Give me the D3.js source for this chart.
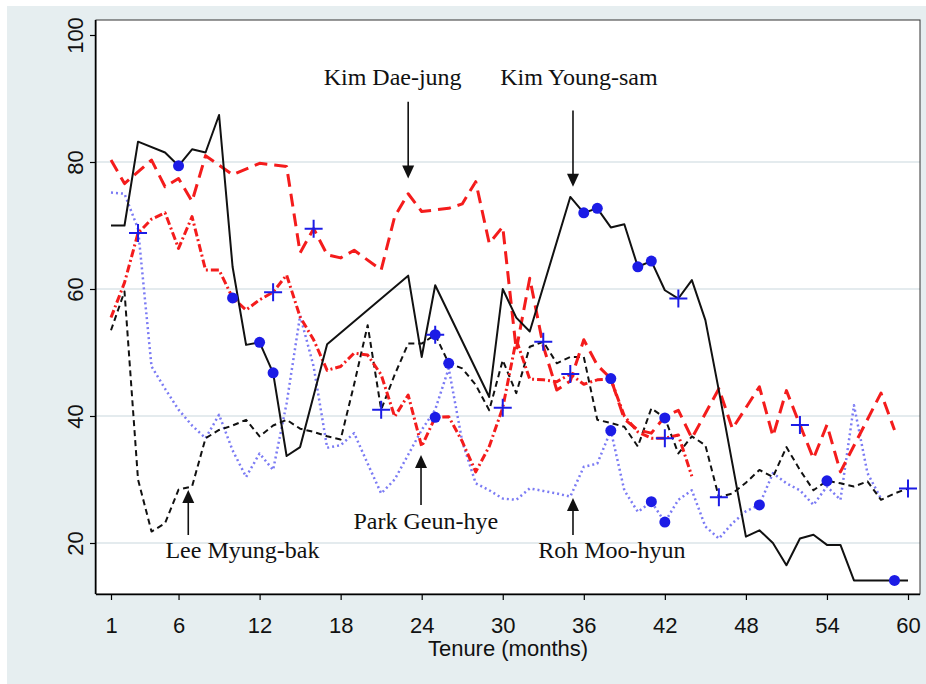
<!DOCTYPE html>
<html>
<head>
<meta charset="utf-8">
<script src="https://cdn.jsdelivr.net/npm/d3@7"></script>
<style>
  body { margin: 0; background: #ffffff; }
  svg { display: block; }
</style>
</head>
<body>
<div id="chart"></div>
<script>
// Approval (%) by month of tenure as [month, value]
const kimYoungSam = [
  [1, 70], [2, 70], [3, 83.2], [5, 81.5], [6, 79.4], [7, 82], [8, 81.5], [9, 87.4],
  [10, 63.5], [11, 51.2], [12, 51.6], [13, 46.8], [14, 33.7], [15, 35.1], [17, 51.3],
  [23, 62.1], [24, 49.3], [25, 60.6], [29, 43], [30, 60], [31, 55.5], [32, 53.3],
  [35, 74.5], [36, 72], [37, 72.7], [38, 69.7], [39, 70.2], [40, 63.5], [41, 64.4],
  [42, 59.8], [43, 58.5], [44, 61.4], [45, 55.1], [46, 44], [47, 32.5], [48, 21],
  [49, 22], [50, 20], [51, 16.5], [52, 20.7], [53, 21.3], [54, 19.7], [55, 19.7],
  [56, 14.1], [57, 14.1], [58, 14.1], [59, 14.1], [60, 14.1]
];
const kimDaeJung = [
  [1, 80.3], [2, 76.6], [4, 80.3], [5, 76.1], [6, 77.4], [7, 73.8], [8, 81], [10, 78],
  [12, 79.8], [14, 79.3], [15, 65.7], [16, 69.5], [17, 65.4], [18, 64.9], [19, 66.1],
  [21, 63], [22, 71.4], [23, 75], [24, 72.2], [26, 72.7], [27, 73.4], [28, 76.9],
  [29, 67.2], [30, 69.8], [31, 50.4], [32, 61.7], [33, 51], [34, 44.1], [35, 45.5],
  [36, 52], [37, 48], [38, 45.9], [39, 39.5], [40, 37.8], [41, 37.3], [42, 39.9],
  [43, 40.9], [44, 36.5], [46, 44.3], [47, 38], [49, 44.6], [50, 36.8], [51, 44],
  [52, 38.6], [53, 33.3], [54, 38.6], [55, 31.2], [58, 43.6], [59, 37.8]
];
const rohMooHyun = [
  [1, 75.2], [2, 75], [3, 69.5], [4, 47.8], [5, 44.3], [6, 41], [7, 38.5], [8, 36.5],
  [9, 40.2], [10, 34.6], [11, 30.4], [12, 34.1], [13, 31.5], [14, 42], [15, 55.8],
  [16, 47.8], [17, 35], [18, 35.4], [19, 37.3], [20, 32.5], [21, 27.8], [22, 30],
  [23, 33.9], [24, 37.8], [25, 41], [26, 47.5], [27, 36], [28, 29.4], [29, 28.3],
  [30, 27], [31, 26.8], [32, 28.6], [33, 28.2], [34, 27.8], [35, 27.3], [36, 32],
  [37, 32.5], [38, 37.7], [39, 28.3], [40, 24.9], [41, 26.5], [42, 23.3], [43, 26.8],
  [44, 28.3], [45, 22.6], [46, 20.7], [47, 23.1], [48, 25], [49, 26], [50, 31],
  [51, 29.4], [52, 28.3], [53, 26], [54, 28.9], [55, 26.8], [56, 41.7], [57, 31], [58, 27]
];
const leeMyungBak = [
  [1, 53.5], [2, 59.6], [3, 30], [4, 21.8], [5, 23.1], [6, 28.4], [7, 28.9], [8, 36.5],
  [9, 37.8], [10, 38.5], [11, 39.4], [12, 36.8], [13, 38.5], [14, 39.4], [15, 38],
  [16, 37.5], [17, 36.8], [18, 36.3], [19, 45], [20, 54.3], [21, 41], [22, 46.5],
  [23, 51.4], [24, 51.4], [25, 52.8], [26, 48.3], [27, 47.5], [28, 44.9], [29, 40.9],
  [30, 48.8], [31, 43.6], [32, 50.9], [33, 51.7], [34, 48.3], [35, 49.3], [36, 49.3],
  [37, 39.4], [38, 38.9], [39, 38.3], [40, 35.2], [41, 41.2], [42, 39.7], [43, 34.1],
  [44, 36.8], [45, 35.4], [46, 27.2], [47, 27.8], [48, 29.5], [49, 31.5], [50, 30.4],
  [51, 35.1], [52, 31.5], [53, 28.3], [54, 29.8], [55, 29.4], [56, 28.9], [57, 29.7],
  [58, 26.8], [59, 27.8], [60, 28.6]
];
const parkGeunHye = [
  [1, 55.5], [2, 61], [3, 68.8], [4, 71], [5, 72], [6, 66.4], [7, 71.4], [8, 63],
  [9, 63], [10, 58.6], [11, 56.7], [12, 58.3], [13, 59.5], [14, 62.2], [15, 55.6],
  [16, 52], [17, 47.2], [18, 47.8], [19, 49.9], [20, 49.6], [21, 46.5], [22, 39.9],
  [23, 43.3], [24, 35.2], [25, 39.8], [26, 39.9], [27, 36], [28, 31.2], [29, 35.2],
  [30, 41.3], [31, 52], [32, 45.8], [33, 45.7], [34, 45.4], [35, 46.6], [36, 45],
  [37, 45.7], [38, 45.8], [39, 40], [40, 37.5], [41, 36.5], [42, 36.5], [43, 37], [44, 30.5]
];

// marked months: [series key, month]
const circleMarks = [
  ['kys', 6], ['park', 10], ['kys', 12], ['kys', 13], ['lee', 25], ['park', 25],
  ['lee', 26], ['kys', 36], ['kys', 37], ['kdj', 38], ['roh', 38], ['kys', 40],
  ['kys', 41], ['roh', 41], ['lee', 42], ['roh', 42], ['roh', 49], ['lee', 54], ['kys', 59]
];
const plusMarks = [
  ['park', 3], ['park', 13], ['kdj', 16], ['lee', 21], ['lee', 25], ['park', 30],
  ['lee', 33], ['park', 35], ['park', 42], ['kys', 43], ['lee', 46], ['kdj', 52], ['lee', 60]
];

const xTicks = [1, 6, 12, 18, 24, 30, 36, 42, 48, 54, 60];
const yTicks = [20, 40, 60, 80, 100];
const gridValues = [20, 40, 60, 80];

const annotationLabels = ['Kim Dae-jung', 'Kim Young-sam', 'Lee Myung-bak', 'Park Geun-hye', 'Roh Moo-hyun'];
const annotationArrowMonths = [23, 35.2, 6.72, 23.95, 35.2];

const seriesData = {
  kys: kimYoungSam,
  kdj: kimDaeJung,
  roh: rohMooHyun,
  lee: leeMyungBak,
  park: parkGeunHye
};

const options = {
  width: 926,
  height: 684,
  plot: { left: 96, right: 920, top: 20, bottom: 594 },
  colors: {
    outer: '#e6eef0',
    grid: '#dbe5e8',
    blue: '#1c1ce6'
  },
  styles: {
    kys: { color: '#111111', width: 2, dash: null },
    kdj: { color: '#f41c1c', width: 3, dash: '13,7' },
    roh: { color: '#7b7bf4', width: 2.5, dash: '2,3' },
    lee: { color: '#111111', width: 2, dash: '6,4' },
    park: { color: '#f41c1c', width: 3, dash: '8,3,2,3' }
  },
  // text / arrow placement in data units: [textMonth, textValue, tailValue, tipValue]
  annotationLayout: [
    [21.85, 92.1, 89.5, 77.4],
    [35.64, 92.1, 88.1, 76.1],
    [10.73, 17.64, 21.26, 28.35],
    [24.3, 22.16, 25.98, 33.86],
    [38.08, 17.64, 21.26, 27.09]
  ]
};

function drawChart() {
  const o = options;
  const p = o.plot;

  const svg = d3.select('#chart')
    .append('svg')
    .attr('width', o.width)
    .attr('height', o.height);

  // outer graph region (thin white strip at top/left like the source)
  svg.append('rect')
    .attr('x', 7).attr('y', 6)
    .attr('width', o.width - 7).attr('height', o.height - 6)
    .attr('fill', o.colors.outer);

  svg.append('rect')
    .attr('x', p.left).attr('y', p.top)
    .attr('width', p.right - p.left).attr('height', p.bottom - p.top)
    .attr('fill', '#ffffff');

  const x = d3.scaleLinear().domain([1, 60]).range([111, 908]);
  const y = d3.scaleLinear().domain([20, 100]).range([543, 35]);

  // gridlines
  svg.append('g')
    .selectAll('line')
    .data(gridValues)
    .enter()
    .append('line')
    .attr('x1', p.left).attr('x2', p.right)
    .attr('y1', d => y(d)).attr('y2', d => y(d))
    .attr('stroke', o.colors.grid)
    .attr('stroke-width', 1.5);

  // plot frame
  svg.append('rect')
    .attr('x', p.left).attr('y', p.top)
    .attr('width', p.right - p.left).attr('height', p.bottom - p.top)
    .attr('fill', 'none')
    .attr('stroke', '#333')
    .attr('stroke-width', 1);

  // axes
  const xAxis = d3.axisBottom(x).tickValues(xTicks).tickSize(6).tickPadding(6).tickSizeOuter(0);
  const gx = svg.append('g')
    .attr('transform', `translate(0,${p.bottom})`)
    .call(xAxis);
  gx.select('.domain').attr('d', `M${p.left},0.5H${p.right}`).attr('stroke', '#000').attr('stroke-width', 1.5);
  gx.selectAll('.tick line').attr('stroke', '#000').attr('stroke-width', 1.2);
  gx.selectAll('.tick text')
    .attr('font-family', '"Liberation Sans", Arial, sans-serif')
    .attr('font-size', 22)
    .attr('fill', '#111')
    .attr('dy', null)
    .attr('y', 39);

  const yAxis = d3.axisLeft(y).tickValues(yTicks).tickSize(6).tickSizeOuter(0);
  const gy = svg.append('g')
    .attr('transform', `translate(${p.left},0)`)
    .call(yAxis);
  gy.select('.domain').attr('d', `M-0.5,${p.top}V${p.bottom}`).attr('stroke', '#000').attr('stroke-width', 1.5);
  gy.selectAll('.tick line').attr('stroke', '#000').attr('stroke-width', 1.2);
  gy.selectAll('.tick text')
    .attr('font-family', '"Liberation Sans", Arial, sans-serif')
    .attr('font-size', 22)
    .attr('fill', '#111')
    .attr('text-anchor', 'middle')
    .attr('x', null).attr('dy', null)
    .attr('transform', 'translate(-13,0) rotate(-90)');

  svg.append('text')
    .attr('x', (p.left + p.right) / 2)
    .attr('y', 656)
    .attr('text-anchor', 'middle')
    .attr('font-family', '"Liberation Sans", Arial, sans-serif')
    .attr('font-size', 22)
    .attr('fill', '#111')
    .text('Tenure (months)');

  // series lines
  const line = d3.line()
    .x(d => x(d[0]))
    .y(d => y(d[1]));

  const order = ['roh', 'lee', 'park', 'kdj', 'kys'];
  svg.append('g')
    .selectAll('path')
    .data(order)
    .enter()
    .append('path')
    .attr('d', k => line(seriesData[k]))
    .attr('fill', 'none')
    .attr('stroke', k => o.styles[k].color)
    .attr('stroke-width', k => o.styles[k].width)
    .attr('stroke-dasharray', k => o.styles[k].dash)
    .attr('stroke-linejoin', 'round');

  const valueAt = (key, month) => seriesData[key].find(d => d[0] === month)[1];

  // event markers
  svg.append('g')
    .selectAll('circle')
    .data(circleMarks)
    .enter()
    .append('circle')
    .attr('cx', d => x(d[1]))
    .attr('cy', d => y(valueAt(d[0], d[1])))
    .attr('r', 5.5)
    .attr('fill', o.colors.blue);

  svg.append('g')
    .selectAll('path')
    .data(plusMarks)
    .enter()
    .append('path')
    .attr('transform', d => `translate(${x(d[1])},${y(valueAt(d[0], d[1]))})`)
    .attr('d', 'M-9,0H9M0,-9V9')
    .attr('stroke', o.colors.blue)
    .attr('stroke-width', 2)
    .attr('fill', 'none');

  // annotations with arrows
  const ann = svg.append('g');
  annotationLabels.forEach((label, i) => {
    const [tm, tv, tail, tip] = o.annotationLayout[i];
    const ax = x(annotationArrowMonths[i]);
    const yTail = y(tail);
    const yTip = y(tip);
    const dir = yTip > yTail ? 1 : -1;

    ann.append('text')
      .attr('x', x(tm))
      .attr('y', y(tv))
      .attr('text-anchor', 'middle')
      .attr('font-family', '"Liberation Serif", "Times New Roman", serif')
      .attr('font-size', 24)
      .attr('fill', '#111')
      .text(label);

    ann.append('line')
      .attr('x1', ax).attr('x2', ax)
      .attr('y1', yTail).attr('y2', yTip - dir * 10)
      .attr('stroke', '#111')
      .attr('stroke-width', 1.6);

    ann.append('path')
      .attr('d', `M${ax},${yTip}L${ax - 6},${yTip - dir * 13}L${ax + 6},${yTip - dir * 13}Z`)
      .attr('fill', '#111');
  });
}

drawChart();
</script>
</body>
</html>
